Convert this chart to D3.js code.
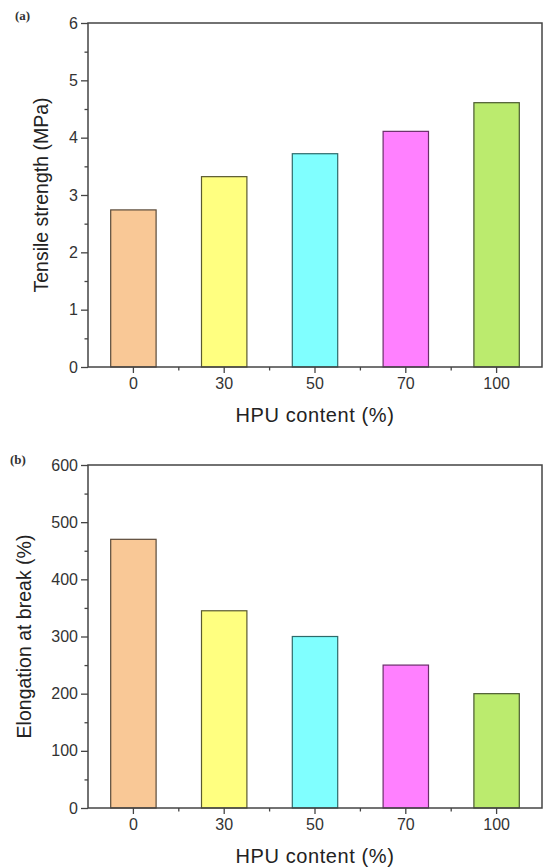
<!DOCTYPE html>
<html>
<head>
<meta charset="utf-8">
<script src="https://cdn.jsdelivr.net/npm/d3@7"></script>
<style>
  body { margin: 0; background: #fff; }
  svg { display: block; }
</style>
</head>
<body>
<div id="chart"></div>
<script>
const categories = ['0', '30', '50', '70', '100'];
const tensileStrength = [2.74, 3.32, 3.72, 4.11, 4.61];
const elongation = [470, 345, 300, 250, 200];
const barColors = ['#F9C896', '#FFFF80', '#80FFFF', '#FF80FF', '#BBEB6E'];
const barStrokes = ['#5a4a3a', '#5a5a30', '#2e6a6a', '#6a2e6a', '#4a5a30'];

const width = 544;
const height = 868;

const svg = d3.select('#chart')
  .append('svg')
  .attr('width', width)
  .attr('height', height)
  .attr('font-family', 'Arial, "Liberation Sans", sans-serif');

function drawPanel(opts) {
  const { tag, tagX, tagY, values, yMax, yStep, top, bottom, yTitle, yTitleX } = opts;
  const left = 88;
  const right = 542;

  const x = d3.scaleBand().domain(categories).range([left, right]).paddingInner(0.5).paddingOuter(0.25);
  const y = d3.scaleLinear().domain([0, yMax]).range([bottom, top]);

  const g = svg.append('g');

  // bars
  g.selectAll('rect.bar')
    .data(values)
    .join('rect')
    .attr('class', 'bar')
    .attr('x', (d, i) => x(categories[i]))
    .attr('y', (d) => y(d))
    .attr('width', x.bandwidth())
    .attr('height', (d) => y(0) - y(d))
    .attr('fill', (d, i) => barColors[i])
    .attr('stroke', (d, i) => barStrokes[i])
    .attr('stroke-width', 1.2);

  // frame
  g.append('rect')
    .attr('x', left)
    .attr('y', top)
    .attr('width', right - left)
    .attr('height', bottom - top)
    .attr('fill', 'none')
    .attr('stroke', '#444')
    .attr('stroke-width', 1.5);

  // y axis
  const yAxis = g.append('g')
    .attr('transform', `translate(${left},0)`)
    .call(d3.axisLeft(y).tickValues(d3.range(0, yMax + yStep / 2, yStep)).tickSize(7).tickPadding(3).tickFormat(d3.format('d')));
  yAxis.select('.domain').remove();
  yAxis.selectAll('line').attr('stroke', '#444').attr('stroke-width', 1.3);
  yAxis.selectAll('text').attr('font-size', 16).attr('fill', '#333');

  const yMinor = g.append('g')
    .attr('transform', `translate(${left},0)`)
    .call(d3.axisLeft(y).tickValues(d3.range(yStep / 2, yMax, yStep)).tickSize(3.5).tickFormat(''));
  yMinor.select('.domain').remove();
  yMinor.selectAll('line').attr('stroke', '#444').attr('stroke-width', 1.3);

  // x axis
  const xAxis = g.append('g')
    .attr('transform', `translate(0,${bottom})`)
    .call(d3.axisBottom(x).tickSize(6).tickPadding(5));
  xAxis.select('.domain').remove();
  xAxis.selectAll('line').attr('stroke', '#444').attr('stroke-width', 1.3);
  xAxis.selectAll('text').attr('font-size', 16).attr('fill', '#333');

  // minor x ticks between categories
  const mids = categories.slice(1).map((c, i) => (x(categories[i]) + x(c)) / 2 + x.bandwidth() / 2);
  g.selectAll('line.xminor')
    .data(mids)
    .join('line')
    .attr('class', 'xminor')
    .attr('x1', (d) => d)
    .attr('x2', (d) => d)
    .attr('y1', bottom)
    .attr('y2', bottom + 3.5)
    .attr('stroke', '#444')
    .attr('stroke-width', 1.3);

  // titles
  g.append('text')
    .attr('x', (left + right) / 2)
    .attr('y', bottom + 55)
    .attr('text-anchor', 'middle')
    .attr('font-size', 20)
    .attr('letter-spacing', 0.6)
    .attr('fill', '#222')
    .text('HPU content (%)');

  g.append('text')
    .attr('transform', `translate(${yTitleX},${(top + bottom) / 2}) rotate(-90)`)
    .attr('text-anchor', 'middle')
    .attr('font-size', 19.5)
    .attr('fill', '#222')
    .text(yTitle);

  g.append('text')
    .attr('x', tagX)
    .attr('y', tagY)
    .attr('font-family', '"Liberation Serif", "DejaVu Serif", serif')
    .attr('font-weight', 'bold')
    .attr('font-size', 13)
    .attr('fill', '#333')
    .text(tag);
}

drawPanel({
  tag: '(a)',
  tagX: 15,
  tagY: 20,
  values: tensileStrength,
  yMax: 6,
  yStep: 1,
  top: 23,
  bottom: 367,
  yTitle: 'Tensile strength (MPa)',
  yTitleX: 48,
});

drawPanel({
  tag: '(b)',
  tagX: 10,
  tagY: 464,
  values: elongation,
  yMax: 600,
  yStep: 100,
  top: 465,
  bottom: 808,
  yTitle: 'Elongation at break (%)',
  yTitleX: 31,
});
</script>
</body>
</html>
